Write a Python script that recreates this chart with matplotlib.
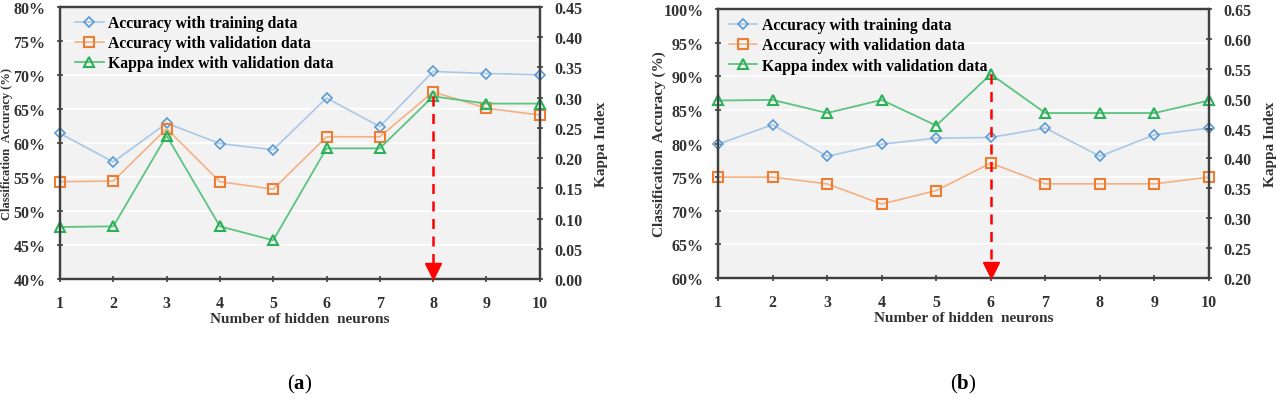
# accuracy / kappa vs number of hidden neurons, two panels

import numpy as np
import matplotlib.pyplot as plt
import matplotlib.transforms as mtransforms
from matplotlib.ticker import PercentFormatter, FormatStrFormatter

plt.rcParams['font.family'] = ['Liberation Serif', 'DejaVu Serif']
plt.rcParams['font.weight'] = 'bold'
plt.rcParams['mathtext.fontset'] = 'custom'
plt.rcParams['mathtext.rm'] = 'Liberation Serif'
plt.rcParams['mathtext.bf'] = 'Liberation Serif:bold'

# data
neurons = np.arange(1, 11)

train_a = [61.4, 57.2, 62.9, 59.9, 59.0, 66.6, 62.4, 70.5, 70.2, 70.0]
valid_a = [54.3, 54.4, 62.1, 54.3, 53.2, 60.9, 60.9, 67.5, 65.1, 64.1]
kappa_a = [0.086, 0.087, 0.237, 0.087, 0.064, 0.216, 0.216, 0.302, 0.290, 0.290]

train_b = [79.9, 82.8, 78.1, 79.9, 80.8, 80.9, 82.3, 78.1, 81.3, 82.3]
valid_b = [75.0, 75.0, 74.0, 71.0, 73.0, 77.1, 74.0, 74.0, 74.0, 75.0]
kappa_b = [0.497, 0.498, 0.476, 0.498, 0.455, 0.541, 0.476, 0.476, 0.476, 0.497]

legend_labels = ["Accuracy with training data",
                 "Accuracy with validation data",
                 "Kappa index with validation data"]

c_blue_line = "#a9c8e8"
c_blue = "#5b9bd5"
c_orange = "#ed7d31"
c_green = "#2bb05a"

fig = plt.figure(figsize=(12.76, 4.02), dpi=100)


def panel(rect, train, valid, kappa, acc_lim, kap_lim, caption,
          ylab_size, ylab_x, leg_x):
    ax = fig.add_axes(rect)
    ax.set_facecolor("#f2f2f2")
    ax2 = ax.twinx()

    l1, = ax.plot(neurons, train, color=c_blue_line, lw=1.2, marker="D", ms=5,
                  mfc="none", mec=c_blue, mew=1.2, clip_on=False)
    l2, = ax.plot(neurons, valid, color="#f4b183", lw=1.2, marker="s", ms=7,
                  mfc="none", mec=c_orange, mew=1.5, clip_on=False)
    l3, = ax2.plot(neurons, kappa, color="#5cc47f", lw=1.3, marker="^", ms=7,
                   mfc="none", mec=c_green, mew=1.5, clip_on=False)

    # red dashed arrow down from the best kappa
    best = int(np.argmax(kappa))
    xb = neurons[best]
    ax2.plot([xb, xb], [kappa[best], kap_lim[0]], color="red", lw=1.8,
             ls=(0, (4, 3)), zorder=5)
    lift = mtransforms.ScaledTranslation(0, 6 / 72, fig.dpi_scale_trans)
    ax2.plot([xb], [kap_lim[0]], marker="v", ms=11, color="red",
             clip_on=False, zorder=6, transform=ax2.transData + lift)

    ax.set_xlim(1, 10)
    ax.set_ylim(*acc_lim)
    ax.set_yticks(np.arange(acc_lim[0], acc_lim[1] + 0.1, 5))
    ax.yaxis.set_major_formatter(PercentFormatter(decimals=0))
    ax.set_xticks(neurons)
    ax2.set_ylim(*kap_lim)
    ax2.set_yticks(np.arange(kap_lim[0], kap_lim[1] + 0.001, 0.05))
    ax2.yaxis.set_major_formatter(FormatStrFormatter("%.2f"))

    ax.grid(axis="y", color="white", lw=1.2)
    ax.set_axisbelow(True)

    for a in (ax, ax2):
        for s in a.spines.values():
            s.set_color("#404040")
            s.set_linewidth(1.6)
        a.tick_params(direction="inout", length=5, width=1.2, pad=8,
                      labelsize=11.5, colors="#404040", labelcolor="#333333")
    ax.tick_params(axis="x", pad=9)

    ax.set_xlabel("Number of hidden  neurons", fontsize=11,
                  fontweight="bold", color="#333333", labelpad=1)
    ax.set_ylabel("Classification  Accuracy (%)", fontsize=ylab_size,
                  fontweight="bold", color="#333333")
    ax.yaxis.set_label_coords(ylab_x, 0.5)
    ax2.set_ylabel("Kappa Index", fontsize=11, fontweight="bold",
                   color="#333333", labelpad=9)

    ax2.legend([l1, l2, l3], legend_labels, loc="upper left",
               bbox_to_anchor=(leg_x, 1.0), frameon=False, fontsize=11.3,
               handlelength=1.8, labelspacing=0.27, borderaxespad=0.12,
               handletextpad=0.3)

    fig.text(rect[0] + rect[2] / 2, 0.03, caption, ha="center",
             fontsize=15, fontweight="normal")


panel([0.047, 0.3035, 0.376, 0.677], train_a, valid_a, kappa_a,
      (40, 80), (0.0, 0.45), r"($\mathbf{a}$)", 9, -0.097, 0.015)
panel([0.5627, 0.306, 0.3848, 0.669], train_b, valid_b, kappa_b,
      (60, 100), (0.20, 0.65), r"($\mathbf{b}$)", 11, -0.105, 0.006)

fig.savefig("out.png", dpi=100)
